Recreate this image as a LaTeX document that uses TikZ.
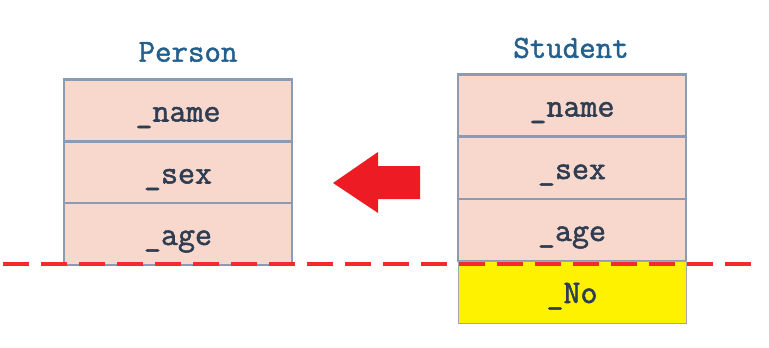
\documentclass[tikz,border=0pt]{standalone}
\usepackage{fontspec}
\newfontfamily\cellfont{Latin Modern Mono}[FakeBold=1.6]
\begin{document}
\begin{tikzpicture}[x=1pt,y=-1pt,
  cell/.style={draw=cellborder,line width=2.8pt,fill=cellfill,minimum width=228pt,minimum height=62pt,inner sep=0pt,
    text height=22pt,text depth=0pt,
    font=\cellfont\fontsize{33}{35}\selectfont,text=celltext},
  newcell/.style={cell,draw=gray!70,line width=1pt,fill=yellow},
  title/.style={font=\cellfont\fontsize{32}{34}\selectfont,text=titleblue}]
\definecolor{cellborder}{HTML}{8C9BB2}
\definecolor{cellfill}{HTML}{F8D8CC}
\definecolor{celltext}{HTML}{2E3D52}
\definecolor{titleblue}{HTML}{24608E}
\definecolor{arrowred}{HTML}{ED1C24}
\definecolor{dashred}{HTML}{F52A2A}
\useasboundingbox (0,0) rectangle (769,348);
% Person
\node[title] (ptitle) at (188,52) {Person};
\node[cell] (pname) at (178,110.5) {\_name};
\node[cell] (psex) at (178,172.5) {\_sex};
\node[cell] (page) at (178,234) {\_age};
% Student
\node[title] (stitle) at (571,48) {Student};
\node[cell] (sname) at (572,105.5) {\_name};
\node[cell] (ssex) at (572,168) {\_sex};
\node[cell] (sage) at (572,230) {\_age};
\node[newcell] (sno) at (572,292) {\_No};
% arrow
\fill[arrowred] (333,183) -- (378,152) -- (378,166) -- (420,166) -- (420,199) -- (378,199) -- (378,213) -- cycle;
% dashed line
\coordinate (dl) at (3,264);
\coordinate (dr) at (755,264);
\draw[dashred,line width=3.5pt,dash pattern=on 26pt off 12pt] (dl) -- (dr);
\end{tikzpicture}
\end{document}
